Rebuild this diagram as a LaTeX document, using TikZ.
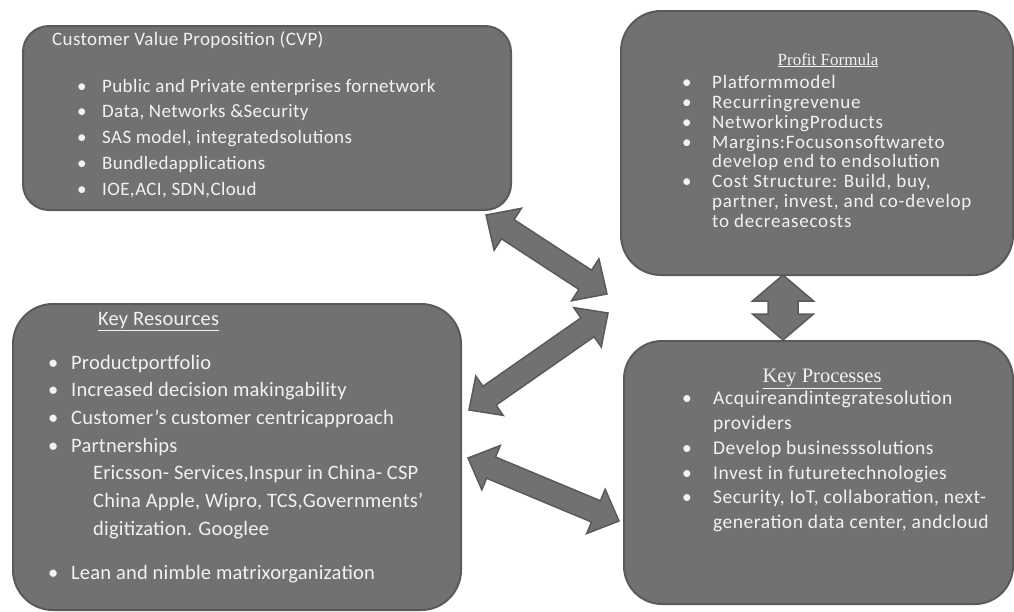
\documentclass[tikz,border=0pt]{standalone}
\usepackage{fontspec}
\setmainfont{Carlito}
\newfontfamily\headfont{Liberation Serif}
\usetikzlibrary{calc}

\definecolor{panelgray}{HTML}{717171}
\definecolor{edgegray}{HTML}{5A5A5A}
\definecolor{paper}{HTML}{F2F2F2}

\tikzset{
  panel/.style={fill=panelgray, draw=edgegray, line width=2pt, anchor=north west, inner sep=0},
  entry/.style={anchor=base west, inner sep=0, text=paper},
  blockarrow/.style={fill=panelgray, draw=edgegray, line width=1.5pt, line join=miter},
}

% double headed block arrow: ends, shaft half width, head half width, head length
\newcommand{\dblarrow}[5]{%
  \draw[blockarrow] (#1)
    -- ($(#1)!#5!(#2)!#4!90:(#2)$) -- ($(#1)!#5!(#2)!#3!90:(#2)$)
    -- ($(#2)!#5!(#1)!#3!-90:(#1)$) -- ($(#2)!#5!(#1)!#4!-90:(#1)$)
    -- (#2)
    -- ($(#2)!#5!(#1)!#4!90:(#1)$) -- ($(#2)!#5!(#1)!#3!90:(#1)$)
    -- ($(#1)!#5!(#2)!#3!-90:(#2)$) -- ($(#1)!#5!(#2)!#4!-90:(#2)$)
    -- cycle;}

\begin{document}
\begin{tikzpicture}[x=1pt,y=-1pt]
  \useasboundingbox (0,0) rectangle (1014,611);

  % the four panels
  \node[panel, minimum width=488, minimum height=184, rounded corners=26] (cvp) at (22,25) {};
  \node[panel, minimum width=392, minimum height=264, rounded corners=40] (profit) at (620,10) {};
  \node[panel, minimum width=448, minimum height=306, rounded corners=40] (resources) at (12,303) {};
  \node[panel, minimum width=389, minimum height=263, rounded corners=38] (processes) at (623,340) {};

  % arrow ends
  \coordinate (cvpend) at (486,215);
  \coordinate (pfend) at (607,294);
  \coordinate (resup) at (469,410);
  \coordinate (pfend2) at (608,313);
  \coordinate (reslow) at (468,458);
  \coordinate (procend) at (619,521);
  \coordinate (pfbottom) at (783,275);
  \coordinate (proctop) at (783,340);

  \dblarrow{cvpend}{pfend}{11.5pt}{25pt}{26pt}
  \dblarrow{resup}{pfend2}{11.5pt}{24pt}{25pt}
  \dblarrow{reslow}{procend}{11.5pt}{24pt}{25pt}
  \dblarrow{pfbottom}{proctop}{15pt}{30.5pt}{26pt}

  % customer value proposition
  \def\cvpfont{\fontsize{19}{22}\selectfont\addfontfeature{LetterSpace=2}}
  \node[entry, font=\cvpfont] (cvptitle) at (52,45) {Customer Value Proposition (CVP)};
  \foreach \t [count=\i] in {{Public and Private enterprises fornetwork},
      {Data, Networks \&Security}, {SAS model, integratedsolutions},
      {Bundledapplications}, {IOE,ACI, SDN,Cloud}}{
    \node[entry, font=\cvpfont] (cvpdot\i) at (77,{92+25.8*(\i-1)}) {\textbullet};
    \node[entry, font=\cvpfont] (cvpitem\i) at (102,{92+25.8*(\i-1)}) {\t};
  }

  % profit formula
  \def\pffont{\fontsize{19}{20}\selectfont\addfontfeature{LetterSpace=4}}
  \node[anchor=base, inner sep=0, text=paper, font=\fontsize{17}{20}\headfont] (pftitle) at (828,65) {\underline{Profit Formula}};
  \foreach \t [count=\i] in {{Platformmodel}, {Recurringrevenue}, {NetworkingProducts},
      {Margins:Focusonsoftwareto}, {}, {Cost Structure: Build, buy,}, {}, {}}{
    \ifx\t\empty\else
      \node[entry, font=\pffont] (pfdot\i) at (682,{88.5+19.86*(\i-1)}) {\textbullet};
    \fi
  }
  \foreach \t [count=\i] in {{Platformmodel}, {Recurringrevenue}, {NetworkingProducts},
      {Margins:Focusonsoftwareto}, {develop end to endsolution},
      {Cost Structure: Build, buy,}, {partner, invest, and co-develop}, {to decreasecosts}}{
    \node[entry, font=\pffont] (pfitem\i) at (712,{88.5+19.86*(\i-1)}) {\t};
  }

  % key resources
  \def\krfont{\fontsize{20.5}{24}\selectfont\addfontfeature{LetterSpace=1}}
  \node[entry, font=\krfont] (krtitle) at (98,325) {\underline{Key Resources}};
  \foreach \t [count=\i] in {{Productportfolio}, {Increased decision makingability},
      {Customer’s customer centricapproach}, {Partnerships}}{
    \node[entry, font=\krfont] (krdot\i) at (48,{369+27.7*(\i-1)}) {\textbullet};
    \node[entry, font=\krfont] (kritem\i) at (71,{369+27.7*(\i-1)}) {\t};
  }
  \foreach \t [count=\i] in {{Ericsson- Services,Inspur in China- CSP},
      {China Apple, Wipro, TCS,Governments’}, {digitization. Googlee}}{
    \node[entry, font=\krfont] (krpartner\i) at (93,{479.8+27.7*(\i-1)}) {\t};
  }
  \node[entry, font=\krfont] (krdot5) at (48,579) {\textbullet};
  \node[entry, font=\krfont] (kritem5) at (71,579) {Lean and nimble matrixorganization};

  % key processes
  \def\kpfont{\fontsize{19.5}{22}\selectfont\addfontfeature{LetterSpace=2.7}}
  \node[anchor=base, inner sep=0, text=paper, font=\fontsize{20.5}{22}\headfont] (kptitle) at (822,382.5) {\underline{Key Processes}};
  \foreach \y in {0,2,3,4}{
    \node[entry, font=\kpfont] (kpdot\y) at (682,{404.7+24.8*\y}) {\textbullet};
  }
  \foreach \t [count=\i] in {{Acquireandintegratesolution}, {providers},
      {Develop businesssolutions}, {Invest in futuretechnologies},
      {Security, IoT, collaboration, next-}, {generation data center, andcloud}}{
    \node[entry, font=\kpfont] (kpitem\i) at (713,{404.7+24.8*(\i-1)}) {\t};
  }
\end{tikzpicture}
\end{document}
